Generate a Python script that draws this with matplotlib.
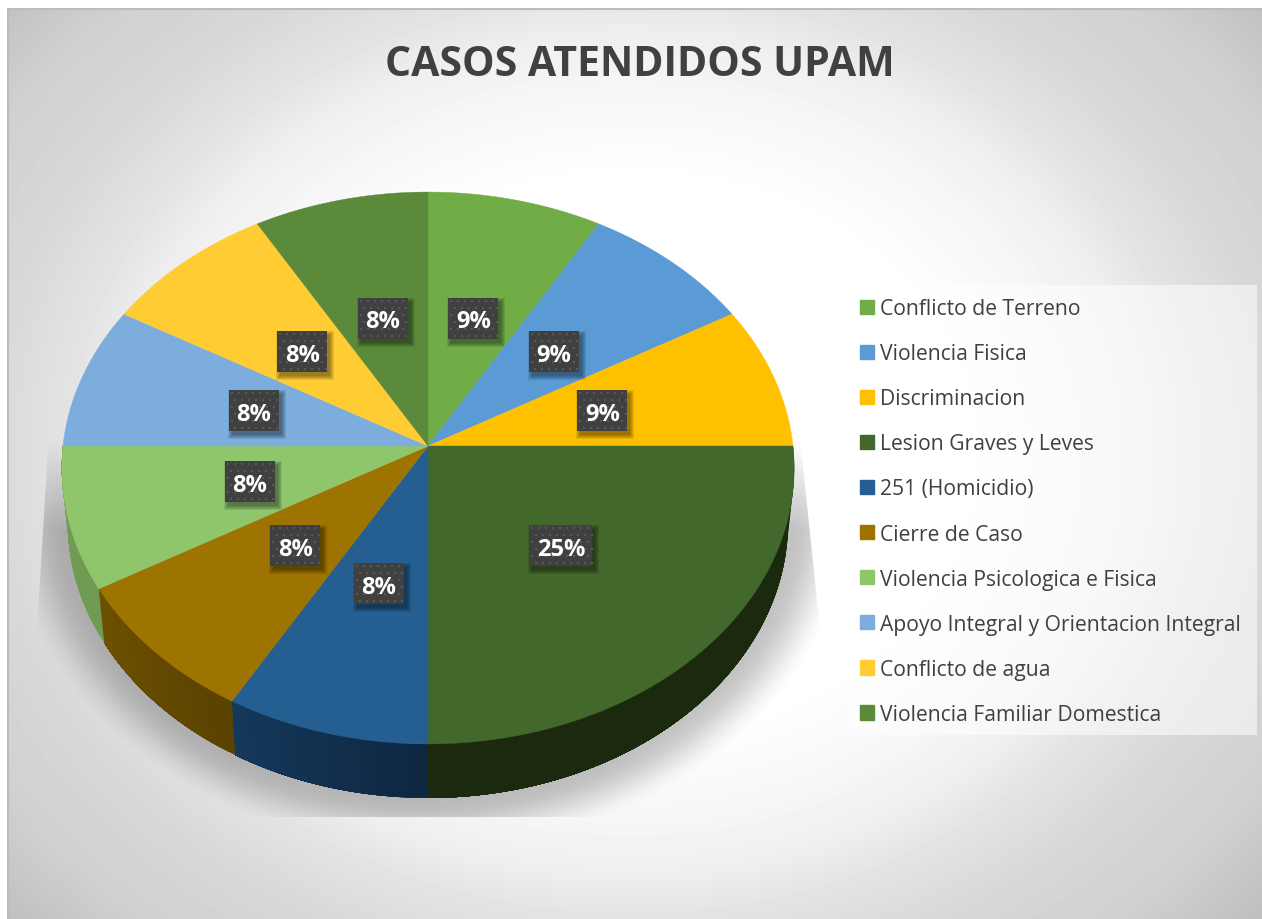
import matplotlib
matplotlib.use('Agg')
import matplotlib.pyplot as plt
from matplotlib.patches import Rectangle, Polygon
import numpy as np

plt.rcParams['font.family'] = ['Open Sans', 'DejaVu Sans']

titulo = 'CASOS ATENDIDOS UPAM'
casos = ['Conflicto de Terreno', 'Violencia Fisica', 'Discriminacion', 'Lesion Graves y Leves',
         '251 (Homicidio)', 'Cierre de Caso', 'Violencia Psicologica e Fisica',
         'Apoyo Integral y Orientacion Integral', 'Conflicto de agua', 'Violencia Familiar Domestica']
valores = [1, 1, 1, 3, 1, 1, 1, 1, 1, 1]
etiquetas = ['9%', '9%', '9%', '25%', '8%', '8%', '8%', '8%', '8%', '8%']
colores = ['#70ad47', '#5b9bd5', '#ffc000', '#43682b', '#255e91',
           '#9e7400', '#8fc66c', '#7caddd', '#ffcd33', '#5b8a3a']
# lado del pastel: color al empezar / terminar cada trozo visible
lado_ini = {3: '#1b2a0f', 4: '#0e2640', 5: '#5a4200', 6: '#6f9b52'}
lado_fin = {3: '#1b2a0f', 4: '#15395c', 5: '#6e5000', 6: '#6f9b52'}

W, H = 1262, 920
cx, cy = 428, 447
cy_bajo = 501
a_arriba, a_bajo = 365, 359
b, k = 274.2, 0.0797


def proyecta(t, f=1.0, a=a_arriba, y0=cy):
    # t en grados, sentido horario desde arriba; perspectiva del disco
    t = np.radians(t)
    X, Y = f * np.sin(t), f * np.cos(t)
    d = 1 + k * Y
    return cx + a * X / d, y0 - b * Y / d


fig = plt.figure(figsize=(W / 100, H / 100), dpi=100, facecolor='white')
ax = fig.add_axes([0, 0, 1, 1])

# fondo
yy, xx = np.mgrid[10:920, 8:1262]
r = np.sqrt(((xx - 630) / 560) ** 2 + ((yy - 455) / 460) ** 2)
gris = np.interp(r, [0.6, 0.8, 0.92, 1.0, 1.15, 1.33, 1.5], [255, 246, 238, 228, 216, 208, 192]) / 255
ax.imshow(gris, cmap='gray', vmin=0, vmax=1, extent=(8, W, H, 10), aspect='auto', zorder=0)
ax.plot([8, 8], [H, 10], color='#bcbcbc', lw=1.5, zorder=1)
ax.plot([8, W], [10, 10], color='#bcbcbc', lw=1.5, zorder=1)

# sombra
yy, xx = np.mgrid[0:920, 0:1262]
r = np.sqrt(((xx - cx) / 400) ** 2 + ((yy - 505) / 325) ** 2)
s = np.clip((1.07 - r) / 0.16, 0, 1)
s = s * s * (3 - 2 * s) * np.clip((yy - 440) / 90, 0, 1)
rgba = np.zeros((920, 1262, 4))
rgba[..., 3] = 0.24 * s
sombra = ax.imshow(rgba, extent=(0, W, H, 0), aspect='auto', zorder=2)
corte = Polygon([(51, 400), (37, 630), (100, 818), (760, 818), (820, 630), (796, 400)],
                closed=True, transform=ax.transData)
sombra.set_clip_path(corte)

angulos = np.cumsum([0] + valores) / sum(valores) * 360

# lados
for i in lado_ini:
    a0, a1 = angulos[i], angulos[i + 1]
    c0 = np.array(matplotlib.colors.to_rgb(lado_ini[i]))
    c1 = np.array(matplotlib.colors.to_rgb(lado_fin[i]))
    pasos = 30
    for n in range(pasos):
        # cada tira llega hasta el final del trozo y la siguiente la tapa
        t = np.linspace(a0 + (a1 - a0) * n / pasos, a1, 40)
        xs, ys = proyecta(t)
        xb, yb = proyecta(t, a=a_bajo, y0=cy_bajo)
        col = c0 + (c1 - c0) * (n + 0.5) / pasos
        ax.fill(np.r_[xs, xb[::-1]], np.r_[ys, yb[::-1]], color=col, lw=0, zorder=3)

# trozos de arriba
for i, col in enumerate(colores):
    t = np.linspace(angulos[i], angulos[i + 1], 80)
    xs, ys = proyecta(t)
    ax.fill(np.r_[cx, xs], np.r_[cy, ys], color=col, lw=0.3, zorder=4)

# etiquetas
for i, txt in enumerate(etiquetas):
    x, y = proyecta((angulos[i] + angulos[i + 1]) / 2, f=0.5)
    w = 63 if len(txt) == 3 else 50
    h = 41
    for e in [4, 3, 2, 1, 0]:
        ax.add_patch(Rectangle((x - w / 2 + 3 - e, y - h / 2 + 4 - e), w + 2 * e, h + 2 * e, color='black',
                               alpha=0.09, lw=0, zorder=5))
    ax.add_patch(Rectangle((x - w / 2, y - h / 2), w, h, color='#404040', lw=0, zorder=6))
    dx, dy = np.meshgrid(np.arange(x - w / 2 + 3, x + w / 2, 7), np.arange(y - h / 2 + 3, y + h / 2, 7))
    dx = dx + (np.arange(dx.shape[0])[:, None] % 2) * 3.5
    ok = dx < x + w / 2
    ax.scatter(dx[ok], dy[ok], s=3, marker='s', color='#585858', lw=0, zorder=7)
    ax.text(x, y, txt, color='white', fontsize=17, fontweight='bold', ha='center', va='center_baseline', zorder=8)

# titulo
ax.text(640, 76, titulo, color='#404040', fontsize=29.5, fontweight='bold', ha='center', va='baseline')

# leyenda
ax.add_patch(Rectangle((848, 286), 409, 450, color='white', alpha=0.55, lw=0, zorder=1))
cuadros = [Rectangle((0, 0), 1, 1, color=c) for c in colores]
ley = ax.legend(cuadros, casos, loc='upper left', bbox_to_anchor=(856, 295), bbox_transform=ax.transData,
                frameon=False, fontsize=15.2, labelcolor='#404040', handlelength=0.67, handleheight=0.67,
                handletextpad=0.27, labelspacing=1.14, borderpad=0.2, borderaxespad=0)

ax.set_xlim(0, W)
ax.set_ylim(H, 0)
ax.axis('off')
plt.savefig('out.png', dpi=100)
